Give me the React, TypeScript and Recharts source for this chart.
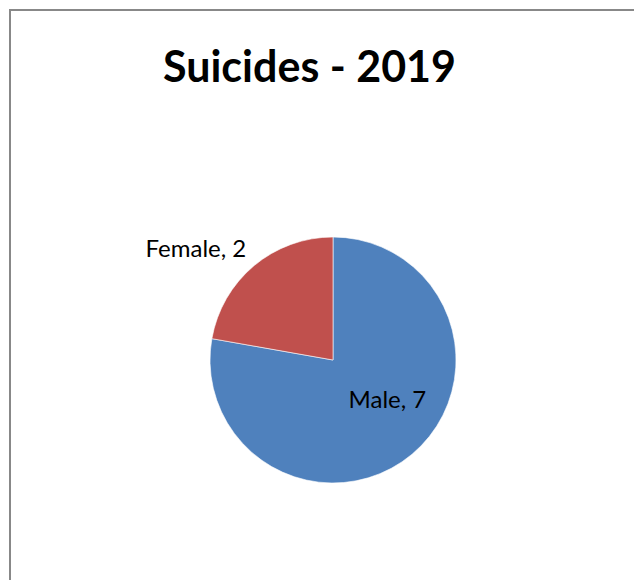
import { PieChart, Pie, Cell } from 'recharts'

// chart values
const categories = ['Male', 'Female']
const counts = [7, 2]
const colors = ['#4F81BD', '#C0504D']
const title = 'Suicides - 2019'

// label placement per slice: angle shift (deg) from slice middle, radius as fraction of outer radius
const labelPlacement = [
  { shift: 15, radius: 0.54 },
  { shift: 10.7, radius: 1.44 },
]

const data = categories.map((name, i) => ({ name, value: counts[i] }))

const RAD = Math.PI / 180
const FONT = 'Lato, "Open Sans", sans-serif'

function renderLabel(props: any) {
  const { cx, cy, midAngle, outerRadius, index, name, value } = props
  const p = labelPlacement[index]
  const a = (midAngle + p.shift) * RAD
  const r = outerRadius * p.radius
  const x = cx + r * Math.cos(a)
  const y = cy - r * Math.sin(a)
  return (
    <text x={x} y={y} textAnchor="middle" dominantBaseline="central"
      fontFamily={FONT} fontSize={24} fill="#000">
      {`${name}, ${value}`}
    </text>
  )
}

export default function App() {
  return (
    <div style={{ position: 'relative', width: 634, height: 572, overflow: 'hidden', background: '#fff' }}>
      <style>{'body { overflow: hidden; }'}</style>
      <div style={{
        position: 'absolute', left: 1, top: 1, width: 700, height: 700,
        borderLeft: '2px solid #888', borderTop: '2px solid #888', boxSizing: 'border-box',
      }} />
      <svg width={634} height={120} style={{ position: 'absolute', left: 0, top: 0 }}>
        <text x={301.5} y={74} textAnchor="middle" fontFamily={FONT} fontWeight="bold" fontSize={43} fill="#000">
          {title}
        </text>
      </svg>
      <div style={{ position: 'absolute', left: 0, top: 0 }}>
        <PieChart width={634} height={572} margin={{ top: 0, right: 0, bottom: 0, left: 0 }}>
          <Pie
            data={data}
            dataKey="value"
            nameKey="name"
            cx={325}
            cy={352}
            outerRadius={123}
            startAngle={90}
            endAngle={-270}
            stroke="#fff"
            strokeWidth={0.6}
            label={renderLabel}
            labelLine={false}
            isAnimationActive={false}
          >
            {data.map((d, i) => <Cell key={d.name} fill={colors[i]} />)}
          </Pie>
        </PieChart>
      </div>
    </div>
  )
}
